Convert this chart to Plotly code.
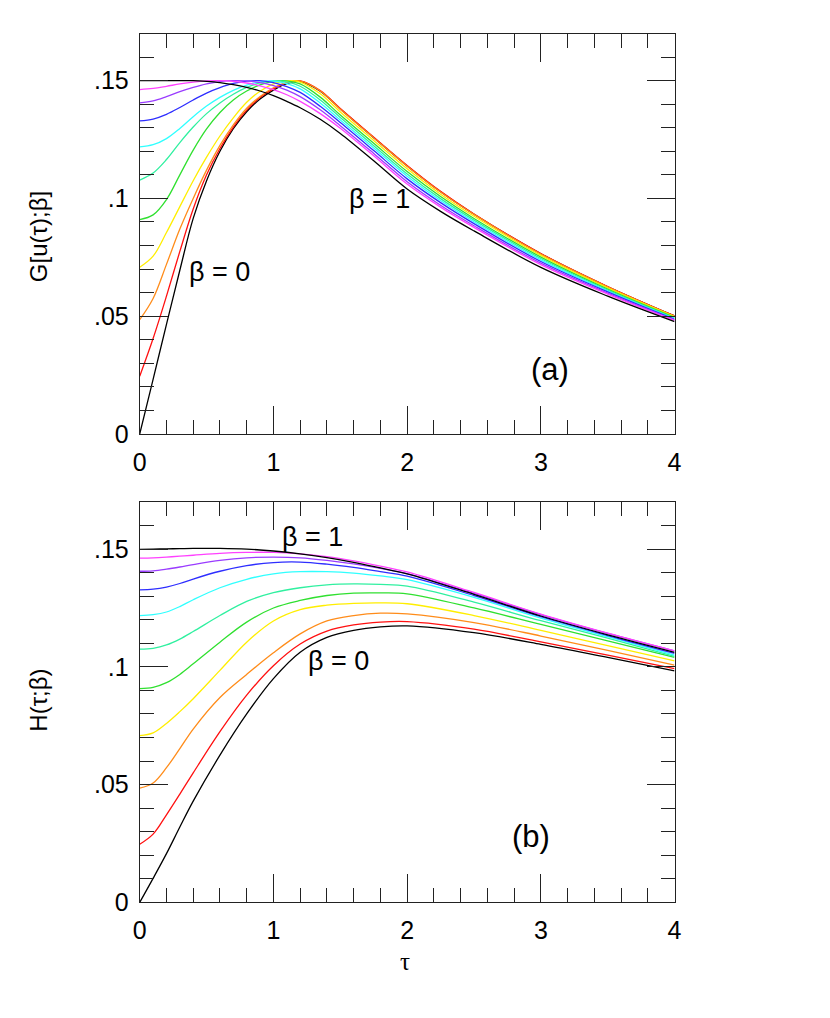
import plotly.graph_objects as go

# ---- data ----
betas = [0, 0.1, 0.2, 0.3, 0.4, 0.5, 0.6, 0.7, 0.8, 0.9, 1.0]

# panel (a): G[u(tau);beta]
tau_a = [0, 0.1, 0.2, 0.3, 0.4, 0.5, 0.6, 0.7, 0.8, 0.9, 1.0, 1.1, 1.2, 1.35, 1.5, 1.75, 2.0, 2.25, 2.5, 3.0, 3.5, 4.0]
g_b00 = [0, .0232, .0465, .0695, .0915, .1075, .1200, .1296, .1368, .1422, .1460, .1487, .1497, .1455, .1380, .1258, .1138, .1028, .0933, .0765, .0625, .0501]
g_b01 = [.0245, .0405, .0585, .0775, .0955, .1100, .1212, .1303, .1375, .1428, .1465, .1490, .1499, .1458, .1382, .1260, .1140, .1030, .0934, .0766, .0626, .0501]
g_b02 = [.0485, .0575, .0720, .0870, .1000, .1120, .1225, .1312, .1383, .1433, .1470, .1493, .1499, .1456, .1379, .1257, .1137, .1027, .0932, .0764, .0625, .0500]
g_b03 = [.0708, .0755, .0855, .0965, .1075, .1175, .1265, .1342, .1408, .1455, .1486, .1499, .1494, .1444, .1367, .1246, .1126, .1018, .0924, .0758, .0620, .0498]
g_b04 = [.0910, .0930, .0995, .1100, .1205, .1295, .1365, .1418, .1456, .1482, .1497, .1499, .1486, .1430, .1354, .1234, .1114, .1008, .0915, .0751, .0615, .0495]
g_b05 = [.1078, .1108, .1165, .1237, .1303, .1360, .1405, .1442, .1471, .1490, .1499, .1495, .1476, .1418, .1344, .1224, .1104, .0999, .0908, .0745, .0611, .0492]
g_b06 = [.1219, .1228, .1254, .1297, .1347, .1392, .1429, .1459, .1481, .1495, .1498, .1487, .1465, .1405, .1333, .1214, .1094, .0991, .0901, .0739, .0607, .0490]
g_b07 = [.1329, .1337, .1357, .1386, .1418, .1447, .1470, .1488, .1498, .1500, .1492, .1475, .1450, .1391, .1322, .1203, .1083, .0982, .0893, .0732, .0603, .0487]
g_b08 = [.1406, .1414, .1432, .1453, .1471, .1486, .1496, .1500, .1499, .1492, .1479, .1460, .1432, .1376, .1309, .1191, .1071, .0971, .0884, .0725, .0598, .0484]
g_b09 = [.1462, .1467, .1476, .1486, .1494, .1499, .1500, .1497, .1490, .1478, .1462, .1440, .1412, .1360, .1298, .1181, .1061, .0963, .0877, .0719, .0594, .0482]
g_b10 = [.1500, .1500, .1500, .1500, .1500, .1497, .1492, .1483, .1471, .1456, .1436, .1412, .1385, .1336, .1276, .1160, .1040, .0945, .0862, .0707, .0585, .0477]

# panel (b): H(tau;beta)
tau_b = [0, 0.1, 0.2, 0.3, 0.4, 0.6, 0.8, 1.0, 1.2, 1.4, 1.6, 1.8, 2.0, 2.5, 3.0, 3.5, 4.0]
h_b00 = [0, .0102, .0207, .0320, .0430, .0625, .0800, .0950, .1062, .1125, .1155, .1170, .1174, .1145, .1096, .1040, .0983]
h_b01 = [.0247, .0290, .0372, .0460, .0550, .0725, .0880, .1005, .1097, .1152, .1178, .1190, .1192, .1160, .1106, .1050, .0993]
h_b02 = [.0485, .0507, .0572, .0653, .0736, .0870, .0968, .1060, .1140, .1195, .1218, .1228, .1225, .1188, .1131, .1070, .1007]
h_b03 = [.0708, .0720, .0760, .0810, .0865, .0985, .1105, .1195, .1243, .1262, .1270, .1272, .1268, .1218, .1155, .1090, .1025]
h_b04 = [.0908, .0913, .0933, .0968, .1013, .1105, .1190, .1250, .1282, .1303, .1313, .1314, .1310, .1250, .1180, .1110, .1040]
h_b05 = [.1075, .1079, .1093, .1118, .1150, .1218, .1278, .1315, .1336, .1348, .1352, .1350, .1343, .1275, .1196, .1122, .1045]
h_b06 = [.1218, .1222, .1233, .1256, .1285, .1336, .1372, .1395, .1404, .1404, .1398, .1386, .1370, .1295, .1207, .1128, .1050]
h_b07 = [.1327, .1330, .1339, .1354, .1373, .1406, .1430, .1443, .1445, .1436, .1422, .1404, .1385, .1303, .1213, .1133, .1057]
h_b08 = [.1406, .1408, .1415, .1424, .1434, .1452, .1463, .1466, .1463, .1452, .1437, .1418, .1396, .1312, .1222, .1142, .1068]
h_b09 = [.1462, .1463, .1466, .1470, .1474, .1482, .1486, .1486, .1480, .1468, .1450, .1428, .1403, .1316, .1224, .1143, .1068]
h_b10 = [.1499, .1500, .1501, .1502, .1503, .1503, .1500, .1492, .1480, .1464, .1444, .1420, .1395, .1308, .1216, .1136, .1062]

g_curves = [g_b00, g_b01, g_b02, g_b03, g_b04, g_b05, g_b06, g_b07, g_b08, g_b09, g_b10]
h_curves = [h_b00, h_b01, h_b02, h_b03, h_b04, h_b05, h_b06, h_b07, h_b08, h_b09, h_b10]

x_ticks = [0, 1, 2, 3, 4]
y_ticks = [0, 0.05, 0.1, 0.15]
y_ticktext = ["0", ".05", ".1", ".15"]

# ---- style ----
colors = ["#000000", "#ff1010", "#ff8c1a", "#ffee00", "#30e030", "#30f0a0",
          "#30ffff", "#2e2eff", "#9a3cff", "#ff40ff", "#000000"]
FONT = "Liberation Sans, Arial, sans-serif"
W, H = 830, 1018
XL, XR = 135, 679
PANELS = [(34, 440), (509, 915)]   # pixel top/bottom of each plot area

fig = go.Figure()

for ax, (tau, curves) in enumerate([(tau_a, g_curves), (tau_b, h_curves)], start=1):
    for b, ys, c in zip(betas, curves, colors):
        fig.add_trace(go.Scatter(
            x=tau, y=ys, mode="lines",
            line=dict(color=c, width=1.3, shape="spline", smoothing=1.0),
            xaxis="x" if ax == 1 else "x2", yaxis="y" if ax == 1 else "y2",
            name=f"β = {b}", showlegend=False, hoverinfo="skip"))


def px_dom_y(top, bot):
    return [1 - bot / H, 1 - top / H]


axis_common = dict(showline=True, linecolor="#222", linewidth=1, mirror="ticks",
                   ticks="inside", tickcolor="#222", tickwidth=1, ticklen=28,
                   showgrid=False, zeroline=False,
                   tickfont=dict(family=FONT, size=25, color="black"))

layout = dict(width=W, height=H, margin=dict(l=0, r=0, t=0, b=0),
              plot_bgcolor="white", paper_bgcolor="white", showlegend=False)

for i, (top, bot) in enumerate(PANELS):
    sfx = "" if i == 0 else "2"
    layout["xaxis" + sfx] = dict(axis_common, domain=[XL / W, XR / W], range=[0, 4],
                                 tickvals=x_ticks, ticklabelstandoff=6,
                                 anchor="y" + sfx,
                                 minor=dict(dtick=0.2, tick0=0, ticks="inside", ticklen=14,
                                            tickcolor="#222", tickwidth=1, showgrid=False))
    layout["yaxis" + sfx] = dict(axis_common, domain=px_dom_y(top, bot), range=[0, 0.17],
                                 tickvals=y_ticks, ticktext=y_ticktext, ticklabelstandoff=5,
                                 anchor="x" + sfx,
                                 minor=dict(dtick=0.01, tick0=0, ticks="inside", ticklen=14,
                                            tickcolor="#222", tickwidth=1, showgrid=False))

fig.update_layout(**layout)

lab = dict(family=FONT, size=27, color="black")
mid = dict(showarrow=False, xanchor="center", yanchor="middle")
ann = [
    dict(mid, x=0.60, y=0.0687, xref="x", yref="y", text="β = 0", font=lab),
    dict(mid, x=1.79, y=0.0998, xref="x", yref="y", text="β = 1", font=lab),
    dict(mid, x=3.07, y=0.0272, xref="x", yref="y", text="(a)", font=dict(lab, size=31)),
    dict(mid, x=1.29, y=0.1550, xref="x2", yref="y2", text="β = 1", font=lab),
    dict(mid, x=1.49, y=0.1026, xref="x2", yref="y2", text="β = 0", font=lab),
    dict(mid, x=2.93, y=0.0281, xref="x2", yref="y2", text="(b)", font=dict(lab, size=31)),
    dict(mid, x=32 / W, y=1 - 240 / H, xref="paper", yref="paper", text="G[u(τ);β]", textangle=-90,
         font=dict(family=FONT, size=24, color="black")),
    dict(mid, x=32 / W, y=1 - 710 / H, xref="paper", yref="paper", text="H(τ;β)", textangle=-90,
         font=dict(family=FONT, size=24, color="black")),
    dict(mid, x=405 / W, y=1 - 975 / H, xref="paper", yref="paper", text="τ",
         font=dict(family="Liberation Serif, Times New Roman, serif", size=25, color="black")),
]
fig.update_layout(annotations=ann)

# drop the default page margin so the figure sits at the window's top-left corner
page_js = (
    "document.documentElement.style.overflow='hidden';"
    "document.body.style.margin='0';"
    "document.body.style.overflow='hidden';"
)
fig.write_html("out.html", config={"displayModeBar": False}, post_script=page_js)
